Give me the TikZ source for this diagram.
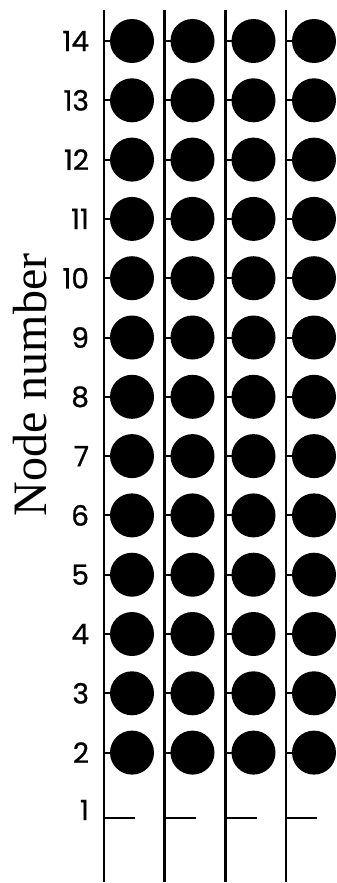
\documentclass[tikz,border=0pt]{standalone}
\usepackage{fontspec}
\setmainfont{Liberation Serif}
\newfontfamily\numfont[FakeBold=0.8]{Poppins}
\usetikzlibrary{positioning}
\tikzset{ndpx/.style={x=1pt,y=-1pt,every node/.style={inner sep=0pt,outer sep=0pt,anchor=center}}}
\tikzset{
  fio/.style={draw=black,line width=2.4pt},
  ramo/.style={draw=black,line width=2pt},
  ramovazio/.style={draw=black,line width=1.5pt},
  no/.style={circle,fill=black,minimum size=44pt},
  rot/.style={font=\numfont\fontsize{28}{28}\selectfont,anchor=east},
  eixo/.style={font=\fontsize{48}{48}\selectfont,rotate=90},
}
\begin{document}
\begin{tikzpicture}[ndpx]
  \useasboundingbox (0,0) rectangle (337,883);
  \foreach \c/\x in {1/104,2/164.5,3/225.5,4/286}{
    \coordinate (topo\c) at (\x,10);
    \coordinate (base\c) at (\x,882);
    \draw[fio] (topo\c) -- (base\c);
    \foreach \r in {2,...,14}{
      \coordinate (f\c-\r) at (\x,{41+(14-\r)*59.3});
      \node[no,right=6pt of f\c-\r] (n\c-\r) {};
      \draw[ramo] (f\c-\r) -- (n\c-\r.west);
    }
    \coordinate (f\c-1) at (\x,818);
    \coordinate (p\c) at (\x+31,818);
    \draw[ramovazio] (f\c-1) -- (p\c);
  }
  % numeros dos nos
  \foreach \r in {2,...,14}
    \node[rot] (l\r) at (89,{41+(14-\r)*59.3}) {\r};
  \node[rot] (l1) at (89,810) {1};
  \node[eixo] (eixo) at (30.5,385) {Node number};
\end{tikzpicture}
\end{document}
